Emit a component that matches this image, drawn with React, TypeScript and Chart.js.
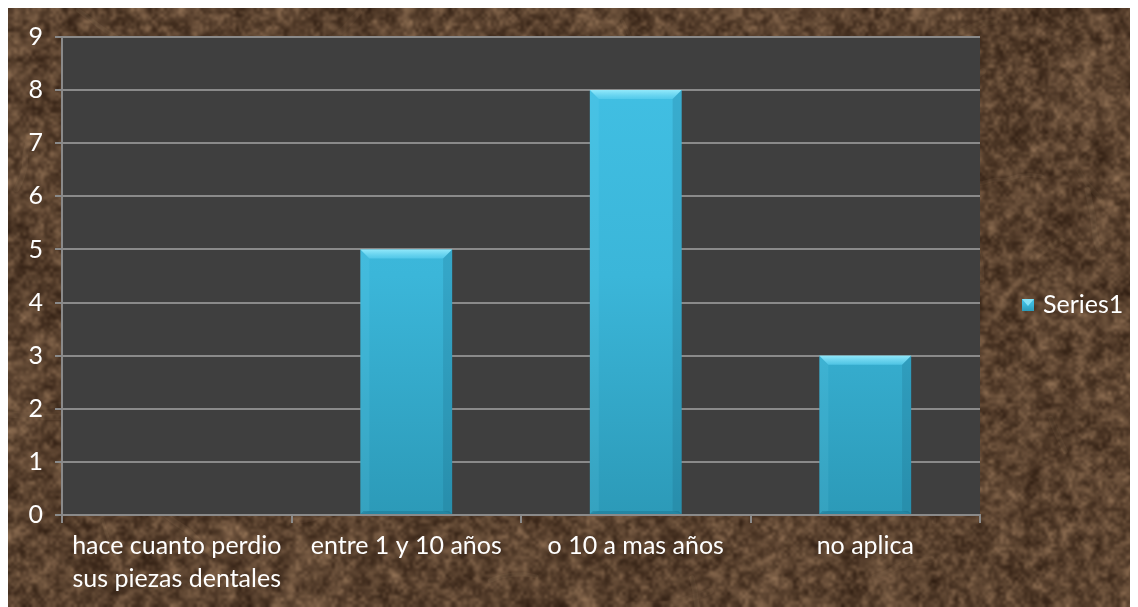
import React, { useEffect, useRef } from "react";
import { Chart, registerables } from "chart.js";

Chart.register(...registerables);

// Chart data
const categories: (string | string[])[] = [
  ["hace cuanto perdio", "sus piezas dentales"],
  "entre 1 y 10 años",
  "o 10 a mas años",
  "no aplica",
];
const seriesName = "Series1";
const seriesValues = [0, 5, 8, 3];
const yMin = 0;
const yMax = 9;
const yStep = 1;

const FONT_FAMILY = "Lato, 'Open Sans', sans-serif";
const FONT_SIZE = 25;
const GRID_COLOR = "#8a8a8a";
const PLOT_FILL = "#3f3f3f";

// Small seeded generator for the stone texture
function mulberry32(seed: number) {
  let a = seed >>> 0;
  return () => {
    a = (a + 0x6d2b79f5) >>> 0;
    let t = a;
    t = Math.imul(t ^ (t >>> 15), t | 1);
    t ^= t + Math.imul(t ^ (t >>> 7), t | 61);
    return ((t ^ (t >>> 14)) >>> 0) / 4294967296;
  };
}

function mix(a: number[], b: number[], t: number) {
  return a.map((v, i) => Math.round(v + (b[i] - v) * t));
}

let marbleCache: HTMLCanvasElement | null = null;

function buildMarble(w: number, h: number) {
  const rnd = mulberry32(20240611);
  const out = document.createElement("canvas");
  out.width = w;
  out.height = h;
  const ctx = out.getContext("2d")!;
  ctx.fillStyle = "#553a27";
  ctx.fillRect(0, 0, w, h);

  const dark = [42, 25, 14];
  const light = [165, 130, 98];

  const layer = (scale: number, alpha: number, bias: number) => {
    const lw = Math.ceil(w / scale);
    const lh = Math.ceil(h / scale);
    const c = document.createElement("canvas");
    c.width = lw;
    c.height = lh;
    const cx = c.getContext("2d")!;
    const img = cx.createImageData(lw, lh);
    for (let i = 0; i < lw * lh; i++) {
      const t = Math.pow(rnd(), bias);
      const col = mix(dark, light, t);
      img.data[i * 4] = col[0];
      img.data[i * 4 + 1] = col[1];
      img.data[i * 4 + 2] = col[2];
      img.data[i * 4 + 3] = 255;
    }
    cx.putImageData(img, 0, 0);
    ctx.save();
    ctx.globalAlpha = alpha;
    ctx.imageSmoothingEnabled = true;
    ctx.imageSmoothingQuality = "high";
    ctx.drawImage(c, 0, 0, lw, lh, 0, 0, w, h);
    ctx.restore();
  };
  layer(30, 0.9, 1.3);
  layer(12, 0.6, 1.5);
  layer(6, 0.5, 1.7);

  // soft pale streaks
  for (let v = 0; v < 70; v++) {
    let x = rnd() * w;
    let y = rnd() * h;
    let ang = rnd() * Math.PI * 2;
    ctx.beginPath();
    ctx.moveTo(x, y);
    const steps = 3 + Math.floor(rnd() * 5);
    for (let s = 0; s < steps; s++) {
      ang += (rnd() - 0.5) * 0.5;
      x += Math.cos(ang) * 12;
      y += Math.sin(ang) * 12;
      ctx.lineTo(x, y);
    }
    ctx.strokeStyle = `rgba(185,155,120,${0.06 + rnd() * 0.1})`;
    ctx.lineWidth = 3 + rnd() * 4;
    ctx.lineCap = "round";
    ctx.stroke();
  }
  layer(3, 0.25, 1.5);
  return out;
}

const backgroundPlugin = {
  id: "stoneBackground",
  beforeDraw(chart: any) {
    const { ctx, width, height, chartArea } = chart;
    if (!marbleCache || marbleCache.width !== width || marbleCache.height !== height) {
      marbleCache = buildMarble(width, height);
    }
    ctx.save();
    ctx.drawImage(marbleCache, 0, 0);
    ctx.fillStyle = PLOT_FILL;
    ctx.fillRect(chartArea.left, chartArea.top, chartArea.right - chartArea.left, chartArea.bottom - chartArea.top);
    ctx.restore();
  },
};

// Bevelled edges on each bar
function drawBevel(ctx: CanvasRenderingContext2D, l: number, t: number, r: number, b: number, d: number) {
  const poly = (pts: number[][], fill: string | CanvasGradient) => {
    ctx.beginPath();
    ctx.moveTo(pts[0][0], pts[0][1]);
    for (let i = 1; i < pts.length; i++) ctx.lineTo(pts[i][0], pts[i][1]);
    ctx.closePath();
    ctx.fillStyle = fill;
    ctx.fill();
  };
  const dd = Math.min(d, (b - t) / 2, (r - l) / 2);
  if (dd <= 0) return;
  const topG = ctx.createLinearGradient(0, t, 0, t + dd);
  topG.addColorStop(0, "rgba(150,235,252,0.95)");
  topG.addColorStop(1, "rgba(90,206,238,0.7)");
  poly([[l, t], [r, t], [r - dd, t + dd], [l + dd, t + dd]], topG);
  poly([[l, t], [l + dd, t + dd], [l + dd, b - 3], [l, b]], "rgba(120,220,245,0.12)");
  poly([[r, t], [r, b], [r - dd, b - 3], [r - dd, t + dd]], "rgba(20,90,115,0.18)");
  poly([[l, b], [l + 3, b - 3], [r - 3, b - 3], [r, b]], "rgba(20,90,115,0.3)");
}

function barGradient(ctx: CanvasRenderingContext2D, top: number, bottom: number) {
  const g = ctx.createLinearGradient(0, top, 0, bottom);
  g.addColorStop(0, "#42c1e5");
  g.addColorStop(0.5, "#3bb6d9");
  g.addColorStop(1, "#2c9ab8");
  return g;
}

const bevelPlugin = {
  id: "barBevel",
  afterDatasetsDraw(chart: any) {
    const { ctx } = chart;
    const meta = chart.getDatasetMeta(0);
    ctx.save();
    meta.data.forEach((bar: any) => {
      const { x, y, base, width } = bar.getProps(["x", "y", "base", "width"], true);
      if (Math.abs(base - y) < 1) return;
      drawBevel(ctx, x - width / 2, y, x + width / 2, base, 9);
    });
    ctx.restore();
  },
};

const legendPlugin = {
  id: "sideLegend",
  afterDraw(chart: any) {
    const { ctx, chartArea } = chart;
    const mx = chartArea.right + 42;
    const my = chartArea.top + 268;
    const s = 12;
    ctx.save();
    ctx.fillStyle = barGradient(ctx, my - s / 2, my + s / 2);
    ctx.fillRect(mx, my - s / 2, s, s);
    ctx.beginPath();
    ctx.moveTo(mx, my - s / 2);
    ctx.lineTo(mx + s, my - s / 2);
    ctx.lineTo(mx + s / 2, my + 1);
    ctx.closePath();
    ctx.fillStyle = "rgba(140,230,250,0.9)";
    ctx.fill();
    ctx.fillStyle = "#ffffff";
    ctx.font = `${FONT_SIZE}px ${FONT_FAMILY}`;
    ctx.textBaseline = "middle";
    ctx.textAlign = "left";
    ctx.fillText(seriesName, mx + s + 9, my);
    ctx.restore();
  },
};

export default function App() {
  const canvasRef = useRef<HTMLCanvasElement | null>(null);

  useEffect(() => {
    document.body.style.overflow = "hidden";
    const canvas = canvasRef.current;
    if (!canvas) return;
    const font = { family: FONT_FAMILY, size: FONT_SIZE, lineHeight: 1.3 };
    const chart = new Chart(canvas, {
      type: "bar",
      data: {
        labels: categories,
        datasets: [
          {
            label: seriesName,
            data: seriesValues,
            backgroundColor: (c: any) => {
              const area = c.chart.chartArea;
              if (!area) return "#3ab3d6";
              return barGradient(c.chart.ctx, area.top, area.bottom);
            },
            borderWidth: 0,
            categoryPercentage: 1,
            barPercentage: 0.4,
          },
        ],
      },
      plugins: [backgroundPlugin, bevelPlugin, legendPlugin],
      options: {
        animation: false,
        responsive: true,
        maintainAspectRatio: false,
        layout: { padding: { top: 29, right: 158, bottom: 0, left: 0 } },
        plugins: {
          legend: { display: false },
          tooltip: { enabled: false },
        },
        scales: {
          x: {
            grid: {
              drawOnChartArea: false,
              drawTicks: true,
              tickLength: 8,
              color: GRID_COLOR,
              lineWidth: 2,
              offset: true,
            },
            border: { color: GRID_COLOR, width: 2 },
            ticks: { color: "#ffffff", font, padding: 7, maxRotation: 0, autoSkip: false },
            afterFit: (s: any) => {
              s.height = 92;
            },
          },
          y: {
            min: yMin,
            max: yMax,
            grid: { color: GRID_COLOR, lineWidth: 2, tickLength: 7 },
            border: { color: GRID_COLOR, width: 2 },
            ticks: { stepSize: yStep, color: "#ffffff", font, padding: 12 },
            afterFit: (s: any) => {
              s.width = 54;
            },
          },
        },
      },
    });
    return () => chart.destroy();
  }, []);

  return (
    <div style={{ position: "relative", width: 1130, height: 599 }}>
      <canvas ref={canvasRef} />
    </div>
  );
}
